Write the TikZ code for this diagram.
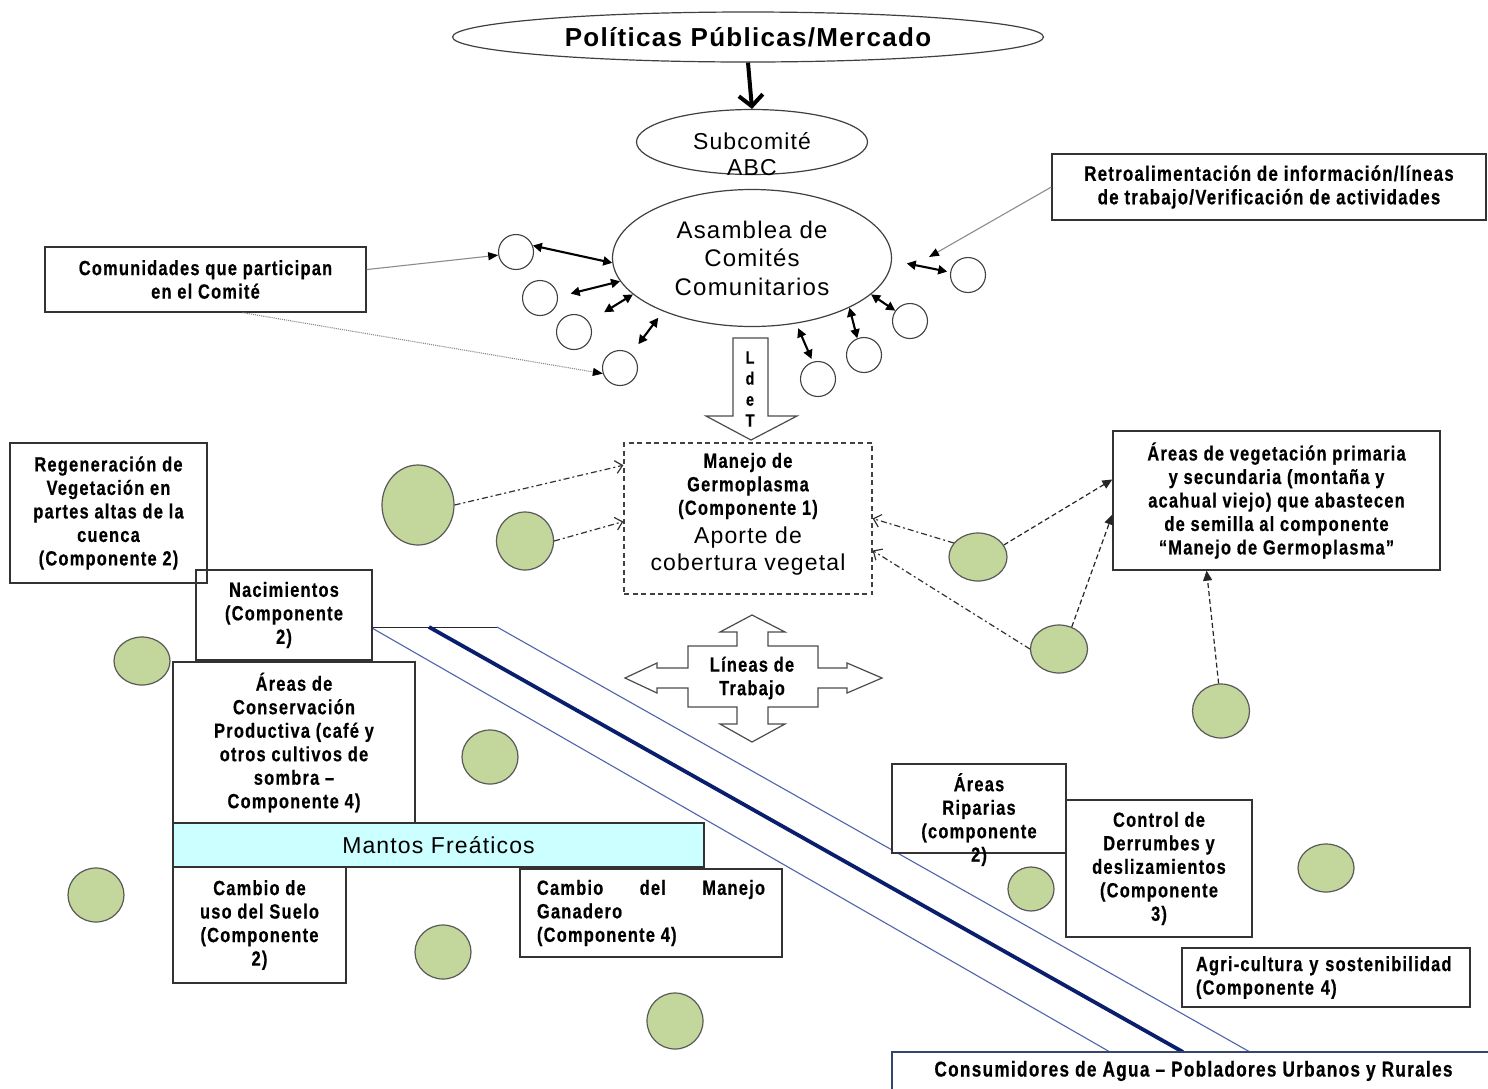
\documentclass[tikz,border=0pt]{standalone}
\usepackage{fontspec}
\setmainfont{Liberation Sans}
\newfontfamily\bxf[FakeStretch=0.8,LetterSpace=6,BoldFeatures={FakeBold=0.5}]{Liberation Sans}
\newfontfamily\rgf[LetterSpace=5]{Liberation Sans}
\usetikzlibrary{shapes.geometric,arrows.meta,calc}
\definecolor{greenfill}{HTML}{C3D69B}
\definecolor{mantosfill}{HTML}{CCFFFF}
\definecolor{riverthinc}{RGB}{80,100,170}
\definecolor{riverthickc}{RGB}{10,30,110}
\definecolor{consc}{RGB}{52,69,110}
\newcommand{\mybx}{\bxf\bfseries\fontsize{20.5}{23.5}\selectfont}
\begin{document}
\begin{tikzpicture}[x=1pt,y=-1pt,
  box/.style={draw=black!80, line width=1.3pt, fill=white, inner sep=0pt, align=center, font=\mybx},
  txt/.style={inner sep=0pt, align=center, font=\mybx},
  smallc/.style={circle, draw=black!75, line width=1.1pt, fill=white, minimum size=35pt, inner sep=0pt},
  gcirc/.style={ellipse, draw=black!65, fill=greenfill, line width=1.2pt, inner sep=0pt},
  dbl/.style={line width=2.1pt, {Triangle[length=9pt,width=9pt]}-{Triangle[length=9pt,width=9pt]}},
  thinarr/.style={draw=black!45, line width=1.1pt, -{Triangle[length=10pt,width=8pt,color=black]}},
  ddash/.style={draw=black!80, line width=1.2pt, dash pattern=on 6pt off 3pt on 2pt off 3pt, -{Straight Barb[length=7pt,width=13pt]}},
  dsh/.style={draw=black!85, line width=1.2pt, dash pattern=on 5pt off 3pt, -{Triangle[length=10pt,width=9pt]}},
  riverthin/.style={draw=riverthinc, line width=1.1pt},
  riverthick/.style={draw=riverthickc, line width=3.8pt},
  blockarrow/.style={fill=white, draw=black!70, line width=1.2pt}
]
\useasboundingbox (0,0) rectangle (1488,1088);
\clip (0,0) rectangle (1488,1088);
\fill[white] (0,0) rectangle (1488,1088);

% river lines
\draw[black!85, line width=1pt] (372,627) -- (497,627);
\draw[riverthin] (372,628) -- (1110,1052);
\draw[riverthin] (497,627) -- (1250,1052);
\draw[riverthick] (429,627) -- (1183,1052);

% top ellipses
\node[ellipse, draw=black!75, line width=1.2pt, minimum width=591pt, minimum height=50pt, inner sep=0pt,
      font=\rgf\bfseries\fontsize{26}{30}\selectfont] (pol) at (748,37) {Políticas Públicas/Mercado};
\node[ellipse, draw=black!75, line width=1.2pt, minimum width=231pt, minimum height=65pt, inner sep=0pt] (sub) at (752,142) {};
\node[inner sep=0pt, align=center, font=\rgf\fontsize{23}{26}\selectfont] (subtxt) at (752,154) {Subcomité\\ABC};
\draw[line width=4pt, -{Straight Barb[length=11pt,width=24pt]}] (pol.south) -- (sub.north);

\node[ellipse, draw=black!75, line width=1.2pt, minimum width=279pt, minimum height=137pt, inner sep=0pt,
      align=center, font=\rgf\fontsize{24}{28.5}\selectfont] (asm) at (752,258) {Asamblea de\\Comités\\Comunitarios};

% small white circles
\node[smallc] (c1) at (516,252) {};
\node[smallc] (c2) at (540,298) {};
\node[smallc] (c3) at (574,332) {};
\node[smallc] (c4) at (620,368) {};
\node[smallc] (c5) at (968,275) {};
\node[smallc] (c6) at (910,321) {};
\node[smallc] (c7) at (864,355) {};
\node[smallc] (c8) at (818,379) {};

\draw[dbl] (c1.21) -- (asm.182);
\draw[dbl, shorten <=13pt] (c2.4) -- (asm.190);
\draw[dbl, shorten <=18pt] (c3.35) -- (asm.197);
\draw[dbl, shorten <=12pt, shorten >=8pt] (c4.52) -- (asm.211);
\draw[dbl, shorten <=3pt, shorten >=15pt] (c5.171) -- (asm.-1);
\draw[dbl] (c6.145) -- (asm.-17);
\draw[dbl] (c7.112) -- (asm.-27);
\draw[dbl, shorten <=3pt, shorten >=5pt] (c8.107) -- (asm.-56);

% side boxes top
\node[box, minimum width=321pt, minimum height=65pt] (com) at (205.5,279.5) {Comunidades que participan\\en el Comité};
\node[box, minimum width=434pt, minimum height=66pt, font=\bxf\bfseries\fontsize{21}{23.5}\selectfont] (retro) at (1269,187) {Retroalimentación de información/líneas\\de trabajo/Verificación de actividades};
\coordinate (fb) at (929,257);

\draw[thinarr] ($(com.north east)!0.35!(com.south east)$) -- (c1.190);
\draw[thinarr, densely dotted] ($(com.south west)!0.615!(com.south east)$) -- (c4.198);
\draw[thinarr] (retro.west) -- (fb);

% LdeT block arrow
\draw[blockarrow] (733,338) -- (768,338) -- (768,416) -- (797,416) -- (751,440) -- (706,416) -- (733,416) -- cycle;
\node[txt, font=\bxf\bfseries\fontsize{18}{21}\selectfont] (ldet) at (750,389) {L\\d\\e\\T};

% germoplasma box
\node[draw=black!75, line width=1.2pt, dash pattern=on 5pt off 3.5pt, fill=white, minimum width=248pt, minimum height=151pt, inner sep=0pt] (mg) at (748,518.5) {};
\node[txt] (mgt1) at (748,486) {Manejo de\\Germoplasma\\(Componente 1)};
\node[inner sep=0pt, align=center, font=\rgf\fontsize{23}{27}\selectfont] (mgt2) at (748,551.5) {Aporte de\\cobertura vegetal};

% green circles
\node[gcirc, minimum width=72pt, minimum height=80pt] (g1) at (418,505) {};
\node[gcirc, minimum width=57pt, minimum height=58pt] (g2) at (525,541) {};
\node[gcirc, minimum width=58pt, minimum height=48pt] (g3) at (978,557) {};
\node[gcirc, minimum width=57pt, minimum height=48pt] (g4) at (1059,649) {};
\node[gcirc, minimum width=57pt, minimum height=54pt] (g5) at (1221,711) {};
\node[gcirc, minimum width=56pt, minimum height=48pt] (g6) at (142,661) {};
\node[gcirc, minimum width=56pt, minimum height=54pt] (g7) at (490,757) {};
\node[gcirc, minimum width=56pt, minimum height=54pt] (g8) at (96,895) {};
\node[gcirc, minimum width=56pt, minimum height=54pt] (g9) at (443,952) {};
\node[gcirc, minimum width=56pt, minimum height=56pt] (g10) at (675,1021) {};
\node[gcirc, minimum width=46pt, minimum height=44pt] (g11) at (1031,889) {};
\node[gcirc, minimum width=56pt, minimum height=48pt] (g12) at (1326,868) {};

% vegetation box
\node[box, minimum width=327pt, minimum height=139pt] (av) at (1276.5,500.5) {Áreas de vegetación primaria\\y secundaria (montaña y\\acahual viejo) que abastecen\\de semilla al componente\\“Manejo de Germoplasma”};

\draw[ddash] (g1.east) -- ($(mg.north west)!0.15!(mg.south west)$);
\draw[ddash] (g2.east) -- ($(mg.north west)!0.52!(mg.south west)$);
\draw[ddash] (g3.150) -- ($(mg.north east)!0.5!(mg.south east)$);
\draw[ddash] (g4.west) -- ($(mg.north east)!0.71!(mg.south east)$);

\draw[dsh] (g3.25) -- ($(av.north west)!0.35!(av.south west)$);
\draw[dsh] (g4.60) -- ($(av.north west)!0.6!(av.south west)$);
\draw[dsh] (g5.95) -- ($(av.south west)!0.287!(av.south east)$);

% Lineas de trabajo cross
\draw[blockarrow] (752,615) -- (785,632) -- (768,632) -- (768,646) -- (818,646) -- (818,668) -- (847,668) -- (847,663) -- (882,678) -- (847,693) -- (847,688) -- (818,688) -- (818,707) -- (768,707) -- (768,724) -- (785,724) -- (752,742) -- (720,724) -- (737,724) -- (737,707) -- (688,707) -- (688,688) -- (657,688) -- (657,693) -- (625,678) -- (657,663) -- (657,668) -- (688,668) -- (688,646) -- (737,646) -- (737,632) -- (720,632) -- cycle;
\node[txt] (lt) at (752,678) {Líneas de\\Trabajo};

% left boxes
\node[box, minimum width=176pt, minimum height=90pt] (nac) at (284,615) {Nacimientos\\(Componente\\2)};
\node[box, fill=none, minimum width=197pt, minimum height=140pt] (reg) at (108.5,513) {Regeneración de\\Vegetación en\\partes altas de la\\cuenca\\(Componente 2)};
\node[box, minimum width=242pt, minimum height=161pt] (acp) at (294,742.5) {Áreas de\\Conservación\\Productiva (café y\\otros cultivos de\\sombra –\\Componente 4)};
\node[box, fill=mantosfill, minimum width=531pt, minimum height=44pt, font=\rgf\fontsize{23}{26}\selectfont] (mantos) at (438.5,845) {Mantos Freáticos};
\node[box, minimum width=173pt, minimum height=116pt] (cus) at (259.5,925) {Cambio de\\uso del Suelo\\(Componente\\2)};
\node[box, minimum width=262pt, minimum height=88pt, text width=228pt, align=justify, inner xsep=17pt] (cmg) at (651,913) {Cambio del Manejo \mbox{Ganadero}\\(Componente 4)};

% right lower boxes
\node[box, minimum width=174pt, minimum height=89pt] (rip) at (979,808.5) {};
\node[txt] (riptxt) at (979,819.5) {Áreas\\Riparias\\(componente\\2)};
\node[box, minimum width=186pt, minimum height=137pt] (cdd) at (1159,868.5) {Control de\\Derrumbes y\\deslizamientos\\(Componente\\3)};
\node[box, minimum width=288pt, minimum height=59pt, text width=260pt, align=left, inner xsep=14pt] (agri) at (1326,977.5) {Agri-cultura y sostenibilidad\\(Componente 4)};
\node[box, draw=consc, minimum width=603pt, minimum height=38pt, font=\bxf\bfseries\fontsize{21.5}{24}\selectfont] (cons) at (1193.5,1071) {Consumidores de Agua – Pobladores Urbanos y Rurales};
\end{tikzpicture}
\end{document}
